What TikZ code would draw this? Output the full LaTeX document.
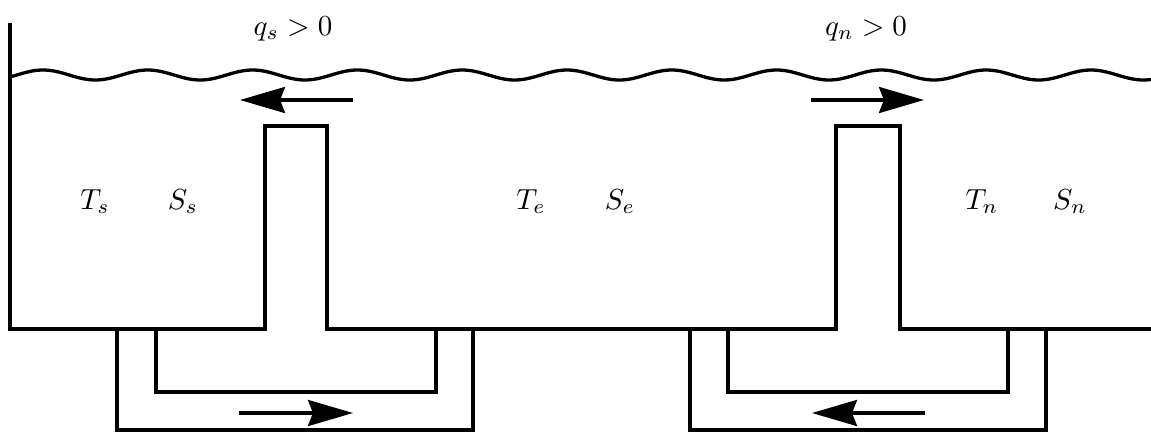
\documentclass[tikz,border=0pt]{standalone}
\usetikzlibrary{arrows.meta}
\begin{document}
\begin{tikzpicture}[x=1pt,y=-1pt,
  wall/.style={line width=3.3pt, line join=miter},
  flow/.style={line width=3.3pt, -{Stealth[length=45pt,width=26pt,inset=5pt]}},
  lbl/.style={font=\normalsize, scale=2.9, transform shape, inner sep=0pt, anchor=base}]
\useasboundingbox (0,0) rectangle (1151,432);
% basin outline with the two sills
\draw[wall] (10,23) -- (10,329) -- (265,329) -- (265,126) -- (327,126) -- (327,329)
  -- (836,329) -- (836,126) -- (900,126) -- (900,329) -- (1152,329);
% sea surface
\draw[line width=3.3pt] plot[domain=10:1152, samples=400, smooth] (\x,{75-5*cos(((\x-43)/104.8)*360)});
% south pipe
\draw[wall] (117,329) -- (117,430) -- (473,430) -- (473,329);
\draw[wall] (156,329) -- (156,392) -- (436,392) -- (436,329);
% north pipe
\draw[wall] (690,329) -- (690,430) -- (1046,430) -- (1046,329);
\draw[wall] (728,329) -- (728,392) -- (1008,392) -- (1008,329);
% flow arrows
\coordinate (sTopA) at (353,100); \coordinate (sTopB) at (240,100);
\coordinate (nTopA) at (811,100); \coordinate (nTopB) at (924,100);
\coordinate (sBotA) at (239,413); \coordinate (sBotB) at (353,413);
\coordinate (nBotA) at (925,413); \coordinate (nBotB) at (812,413);
\draw[flow] (sTopA) -- (sTopB);
\draw[flow] (nTopA) -- (nTopB);
\draw[flow] (sBotA) -- (sBotB);
\draw[flow] (nBotA) -- (nBotB);
% labels
\node[lbl] (qs) at (293,35) {$q_s>0$};
\node[lbl] (qn) at (866,35) {$q_n>0$};
\node[lbl] (Ts) at (95,209) {$T_s$};
\node[lbl] (Ss) at (183,209) {$S_s$};
\node[lbl] (Te) at (531,209) {$T_e$};
\node[lbl] (Se) at (620,209) {$S_e$};
\node[lbl] (Tn) at (982,209) {$T_n$};
\node[lbl] (Sn) at (1070,209) {$S_n$};
\end{tikzpicture}
\end{document}
